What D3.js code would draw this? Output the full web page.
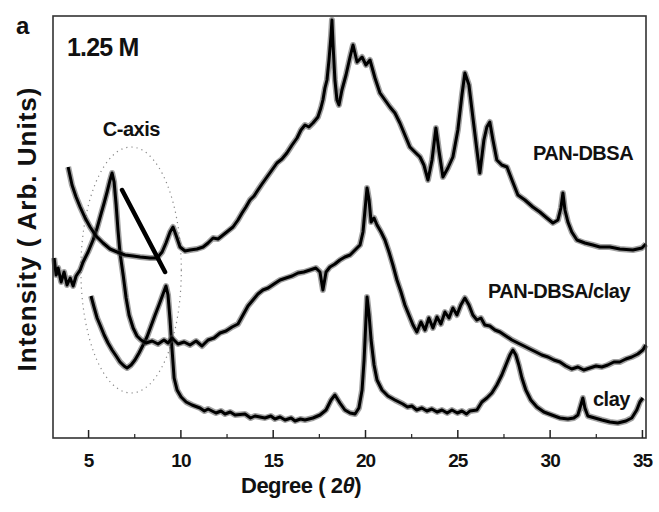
<!DOCTYPE html>
<html>
<head>
<meta charset="utf-8">
<script src="https://cdn.jsdelivr.net/npm/d3@7"></script>
<style>
  body { margin: 0; background: #fff; }
  svg text { font-family: "Liberation Sans", Arial, Helvetica, sans-serif; font-weight: bold; fill: #111; }
</style>
</head>
<body>
<div id="chart"></div>
<script>
// XRD patterns, 2theta (deg) vs intensity (arb. units)
var panDbsa = [[3.92,271],[4.13,253],[4.35,241],[4.57,231],[4.84,220],[5.11,211],[5.43,202],[5.81,195],[6.19,189],[6.57,186],[7.00,183],[7.44,182],[7.82,181],[8.36,180],[8.74,180],[9.01,186],[9.22,195],[9.44,206],[9.60,211],[9.76,203],[9.98,191],[10.25,187],[10.52,188],[10.90,189],[11.23,191],[11.50,195],[11.77,200],[12.04,199],[12.31,203],[12.58,207],[12.85,211],[13.12,218],[13.34,225],[13.55,231],[13.77,238],[13.99,242],[14.20,248],[14.42,254],[14.69,261],[14.96,268],[15.23,275],[15.50,279],[15.77,285],[16.05,293],[16.32,300],[16.53,308],[16.75,313],[16.96,311],[17.18,315],[17.45,321],[17.61,330],[17.72,338],[17.83,350],[17.94,358],[18.05,378],[18.16,403],[18.21,418],[18.27,393],[18.37,358],[18.48,338],[18.59,333],[18.75,348],[18.97,363],[19.19,381],[19.35,393],[19.57,376],[19.84,381],[20.05,373],[20.27,378],[20.54,360],[20.81,345],[21.08,338],[21.35,331],[21.62,325],[21.89,315],[22.16,303],[22.43,291],[22.70,286],[22.98,281],[23.19,273],[23.41,258],[23.63,278],[23.84,310],[24.00,288],[24.22,261],[24.49,270],[24.76,281],[25.03,308],[25.25,343],[25.41,365],[25.63,353],[25.84,321],[26.06,288],[26.22,265],[26.44,298],[26.60,311],[26.76,316],[26.93,298],[27.14,278],[27.41,273],[27.69,271],[27.96,258],[28.28,243],[28.66,238],[29.09,231],[29.47,226],[29.85,220],[30.18,215],[30.45,218],[30.61,230],[30.72,245],[30.83,228],[30.99,216],[31.20,206],[31.48,198],[31.91,195],[32.34,193],[32.72,191],[33.26,191],[33.80,189],[34.51,188],[35.00,190],[35.21,194]];

var panDbsaClay = [[3.16,180],[3.27,163],[3.38,170],[3.54,156],[3.70,166],[3.86,153],[4.03,160],[4.19,152],[4.35,162],[4.57,168],[4.73,176],[5.00,186],[5.27,198],[5.49,210],[5.70,224],[5.87,235],[6.03,246],[6.19,258],[6.30,265],[6.41,256],[6.52,233],[6.62,208],[6.73,185],[6.90,163],[7.06,140],[7.22,123],[7.44,110],[7.65,102],[7.87,98],[8.14,95],[8.47,97],[8.79,94],[9.11,98],[9.33,95],[9.55,100],[9.87,94],[10.20,96],[10.52,93],[10.85,97],[11.17,92],[11.50,98],[11.82,100],[12.15,105],[12.47,107],[12.80,111],[13.12,114],[13.39,123],[13.66,132],[13.93,138],[14.20,144],[14.47,148],[14.75,150],[15.07,154],[15.40,158],[15.72,160],[16.05,162],[16.37,165],[16.69,166],[17.02,168],[17.34,170],[17.56,166],[17.72,148],[17.89,166],[18.10,171],[18.37,174],[18.64,178],[18.91,181],[19.19,183],[19.46,188],[19.73,193],[19.89,206],[20.00,228],[20.11,250],[20.22,238],[20.33,216],[20.49,220],[20.65,213],[20.87,206],[21.08,198],[21.30,186],[21.51,173],[21.73,158],[21.95,146],[22.16,133],[22.38,123],[22.60,113],[22.81,106],[23.03,116],[23.25,108],[23.46,120],[23.68,110],[23.90,121],[24.11,114],[24.33,126],[24.55,120],[24.76,130],[24.98,123],[25.19,133],[25.41,140],[25.63,133],[25.84,123],[26.06,118],[26.28,120],[26.49,113],[26.76,112],[27.04,108],[27.31,106],[27.63,102],[27.96,98],[28.28,95],[28.61,92],[28.93,89],[29.26,86],[29.58,83],[29.91,81],[30.23,78],[30.56,76],[30.88,72],[31.20,69],[31.53,71],[31.85,68],[32.18,70],[32.51,72],[32.83,71],[33.15,73],[33.48,76],[33.80,76],[34.13,79],[34.45,81],[34.78,84],[35.05,88],[35.21,93]];

var clay = [[5.16,142],[5.32,131],[5.49,120],[5.65,113],[5.87,103],[6.08,95],[6.30,88],[6.52,82],[6.73,76],[6.95,72],[7.11,70],[7.33,73],[7.54,78],[7.76,85],[7.98,93],[8.19,101],[8.41,112],[8.63,123],[8.84,133],[9.06,144],[9.22,152],[9.33,143],[9.44,118],[9.55,88],[9.66,60],[9.82,48],[10.04,41],[10.31,36],[10.63,33],[11.06,30],[11.30,27],[11.50,29],[11.93,25],[12.20,27],[12.42,24],[12.70,26],[12.96,23],[13.50,24],[13.80,20],[14.04,22],[14.58,20],[14.90,22],[15.12,19],[15.40,21],[15.67,18],[16.00,20],[16.21,17],[16.50,19],[16.75,18],[17.18,20],[17.56,23],[17.89,28],[18.16,38],[18.37,43],[18.64,35],[18.91,28],[19.19,25],[19.46,24],[19.67,30],[19.84,48],[19.95,78],[20.05,118],[20.11,141],[20.22,123],[20.33,98],[20.49,73],[20.65,58],[20.92,48],[21.24,42],[21.62,38],[22.05,34],[22.30,31],[22.54,32],[22.80,28],[23.08,30],[23.35,27],[23.62,29],[23.90,26],[24.17,28],[24.45,25],[24.71,28],[25.00,25],[25.25,27],[25.50,24],[25.68,27],[26.06,28],[26.33,36],[26.60,40],[26.87,45],[27.14,53],[27.41,63],[27.63,73],[27.85,83],[28.01,88],[28.17,83],[28.33,73],[28.50,60],[28.71,48],[28.98,38],[29.31,31],[29.69,26],[30.12,23],[30.56,20],[30.99,19],[31.31,20],[31.53,23],[31.69,33],[31.80,40],[31.91,30],[32.07,22],[32.45,20],[32.83,18],[33.26,16],[33.69,15],[34.13,17],[34.45,20],[34.72,28],[34.89,36],[35.05,40]];

var xTicks = [5, 10, 15, 20, 25, 30, 35];
var xMinorTicks = [7.5, 12.5, 17.5, 22.5, 27.5, 32.5];

// thick pointer from the 6.3 deg peak down to the 9.2 deg clay peak
var pointer = [[6.84, 248], [9.17, 166]];
// dotted ellipse round the c-axis reflections: centre and half-axes in data units
var ellipseCentre = [7.33, 168], ellipseHalf = [2.72, 123];

var seriesLabels = [
    {text: "PAN-DBSA", x: 29.1, y: 278},
    {text: "PAN-DBSA/clay", x: 26.66, y: 140},
    {text: "clay", x: 32.35, y: 32},
    {text: "C-axis", x: 5.8, y: 302}
];

var width = 659, height = 512,
    margin = {top: 16, right: 13, bottom: 74, left: 53};

var svg = d3.select("#chart").append("svg")
    .attr("width", width)
    .attr("height", height);

var x = d3.scaleLinear().domain([3.1, 35.22]).range([margin.left, width - margin.right]);
var y = d3.scaleLinear().domain([0, 422]).range([height - margin.bottom, margin.top]);

var line = d3.line()
    .x(function(d) { return x(d[0]); })
    .y(function(d) { return y(d[1]); });

// ellipse (under the traces)
svg.append("ellipse")
    .attr("cx", x(ellipseCentre[0]))
    .attr("cy", y(ellipseCentre[1]))
    .attr("rx", x(ellipseCentre[0] + ellipseHalf[0]) - x(ellipseCentre[0]))
    .attr("ry", y(0) - y(ellipseHalf[1]))
    .attr("fill", "none")
    .attr("stroke", "#888")
    .attr("stroke-width", 1.2)
    .attr("stroke-dasharray", "1.2 4");

// noisy scan traces: a soft grey band with a black core
var g = svg.append("g");
[clay, panDbsaClay, panDbsa].forEach(function(s) {
    g.append("path").datum(s)
        .attr("d", line)
        .attr("fill", "none")
        .attr("stroke", "#444")
        .attr("stroke-opacity", 0.5)
        .attr("stroke-width", 6)
        .attr("stroke-linejoin", "round");
    g.append("path").datum(s)
        .attr("d", line)
        .attr("fill", "none")
        .attr("stroke", "#000")
        .attr("stroke-width", 3)
        .attr("stroke-linejoin", "round");
});

svg.append("path").datum(pointer)
    .attr("d", line)
    .attr("stroke", "#000")
    .attr("stroke-width", 4.5)
    .attr("stroke-linecap", "round");

// frame
svg.append("rect")
    .attr("x", margin.left)
    .attr("y", margin.top)
    .attr("width", width - margin.left - margin.right)
    .attr("height", height - margin.top - margin.bottom)
    .attr("fill", "none")
    .attr("stroke", "#333")
    .attr("stroke-width", 1.6);

// bottom axis, ticks pointing inwards
var xAxis = svg.append("g")
    .attr("transform", "translate(0," + (height - margin.bottom) + ")")
    .call(d3.axisBottom(x).tickValues(xTicks).tickSize(-8).tickPadding(16).tickFormat(d3.format("d")));
xAxis.select(".domain").remove();
xAxis.selectAll("line").attr("stroke", "#222").attr("stroke-width", 1.5);
xAxis.selectAll("text")
    .attr("font-size", 19)
    .attr("font-weight", "normal")
    .attr("letter-spacing", -1)
    .style("font-family", "'Liberation Sans Narrow', 'Arial Narrow', 'Liberation Sans', Arial, sans-serif")
    .style("fill", "#111");

var xMinor = svg.append("g")
    .attr("transform", "translate(0," + (height - margin.bottom) + ")")
    .call(d3.axisBottom(x).tickValues(xMinorTicks).tickSize(-4).tickFormat(""));
xMinor.select(".domain").remove();
xMinor.selectAll("line").attr("stroke", "#222").attr("stroke-width", 1.2);

// series / annotation labels
svg.selectAll(".series-label")
    .data(seriesLabels)
    .enter().append("text")
    .attr("class", "series-label")
    .attr("x", function(d) { return x(d.x); })
    .attr("y", function(d) { return y(d.y); })
    .attr("font-size", 20)
    .attr("letter-spacing", -0.5)
    .text(function(d) { return d.text; });

svg.append("text").attr("x", 16).attr("y", 34).attr("font-size", 24).text("a");
svg.append("text").attr("x", 67).attr("y", 56).attr("font-size", 25).attr("letter-spacing", -0.8).text("1.25 M");

// axis titles
var xTitle = svg.append("text")
    .attr("x", 301)
    .attr("y", 493)
    .attr("text-anchor", "middle")
    .attr("font-size", 22)
    .attr("letter-spacing", -0.5);
xTitle.append("tspan").text("Degree ( 2");
xTitle.append("tspan").attr("font-style", "italic").text("θ");
xTitle.append("tspan").text(")");

svg.append("text")
    .attr("transform", "translate(36,229) rotate(-90)")
    .attr("text-anchor", "middle")
    .attr("font-size", 26)
    .attr("letter-spacing", 1)
    .text("Intensity ( Arb. Units)");
</script>
</body>
</html>
